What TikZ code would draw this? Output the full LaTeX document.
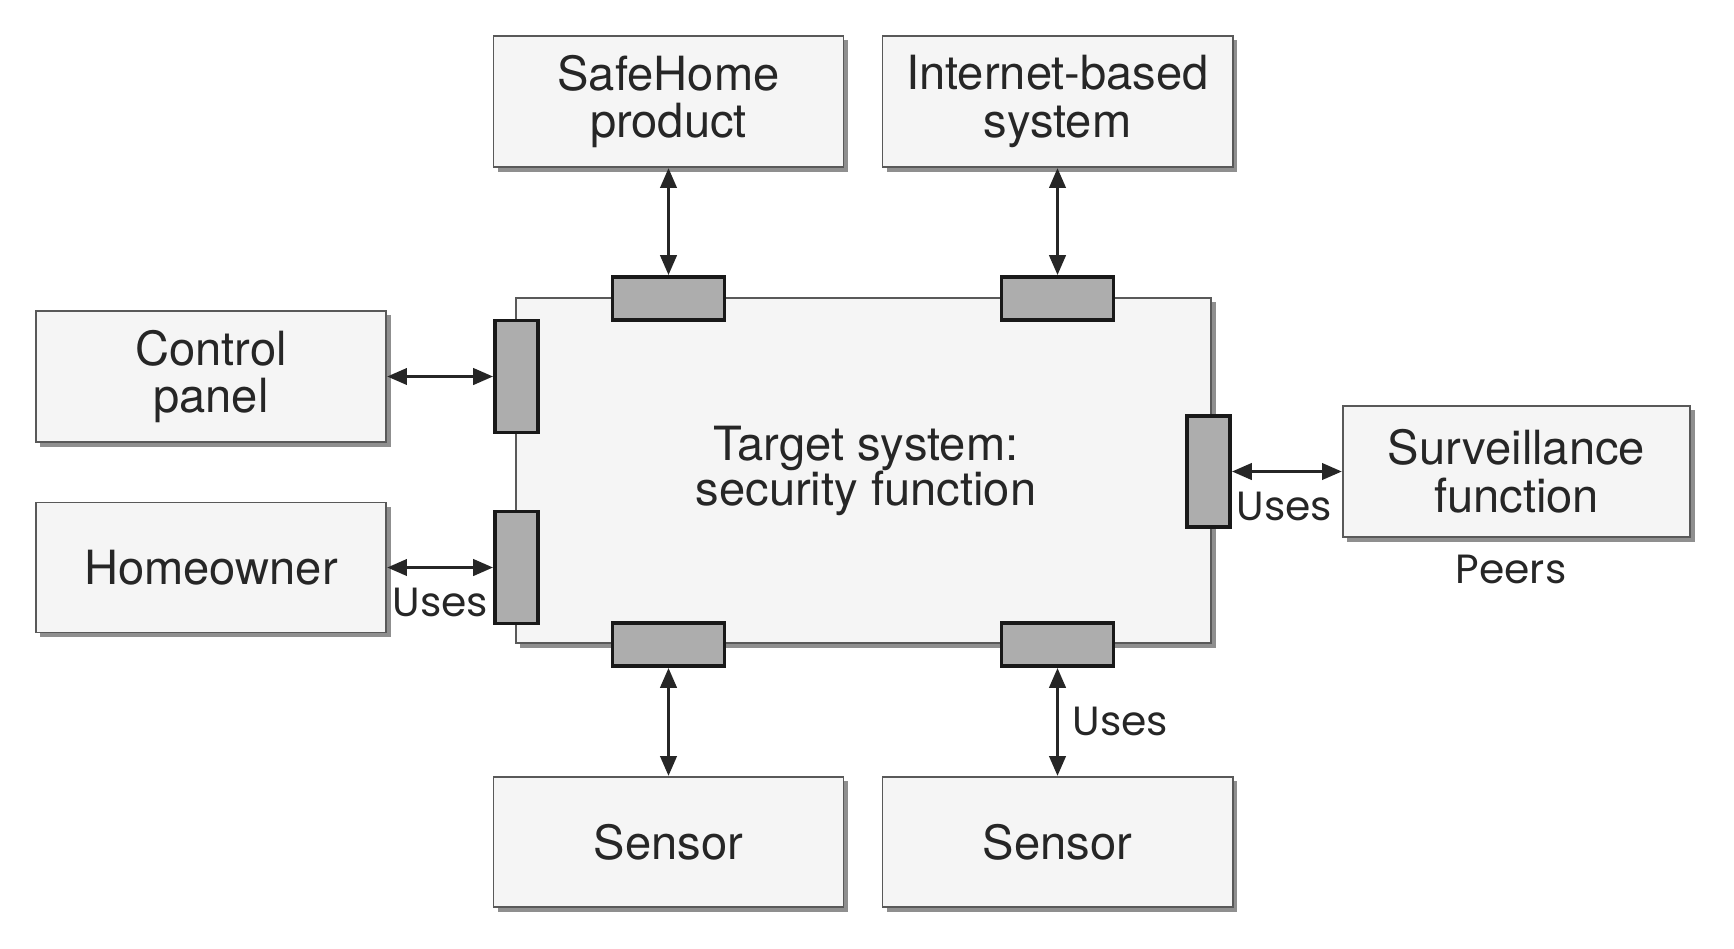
\documentclass[tikz,border=0pt]{standalone}
\usepackage{fontspec}
\setmainfont{TeX Gyre Heros}
\newfontfamily\labelfont{Poppins}
\usetikzlibrary{shapes,arrows.meta,positioning,calc,shadows}

\newcommand\titlefont{\fontsize{13.4}{13}\selectfont\lineskiplimit=-10pt\relax}

\tikzset{
  unit/.style={draw=black!65, line width=0.5pt, fill=black!4,
    minimum width=3.5cm, minimum height=1.31cm, inner sep=0pt,
    align=center, text=black!85, font=\fontsize{13.4}{13.6}\selectfont,
    drop shadow={shadow xshift=0.045cm, shadow yshift=-0.045cm, fill=black!55, opacity=0.8}},
  port/.style={draw=black!90, line width=1pt, fill=black!32, inner sep=0pt},
  hport/.style={port, minimum width=1.12cm, minimum height=0.43cm},
  vport/.style={port, minimum width=0.43cm, minimum height=1.12cm},
  link/.style={{Triangle[length=0.2cm,width=0.16cm]}-{Triangle[length=0.2cm,width=0.16cm]},
    line width=1.1pt, draw=black!85},
  lbl/.style={font=\labelfont\fontsize{11.6}{12}\selectfont, inner sep=0pt, text=black!85}
}

\begin{document}
\begin{tikzpicture}[x=0.01cm, y=-0.01cm]
            \useasboundingbox (0,0) rectangle (1734,948);

            % Target system
            \node[unit, minimum width=6.95cm, minimum height=3.45cm] (target) at (863.5,470.5) {};
            \node[text=black!85, font=\titlefont, align=center] (title) at (866,471) {Target system:\\security function};

            % Top
            \node[unit] (safehome) at (668.5,101.5) {SafeHome\\product};
            \node[unit] (internet) at (1057.5,101.5) {Internet-based\\system};
            \node[hport] (ptopa) at (668.5,298.5) {};
            \node[hport] (ptopb) at (1057.5,298.5) {};
            \draw[link] (safehome.south) -- (ptopa.north);
            \draw[link] (internet.south) -- (ptopb.north);

            % Left
            \node[unit] (control) at (211,376.5) {Control\\panel};
            \node[unit, minimum height=1.30cm] (homeowner) at (211,567.5) {Homeowner};
            \node[vport] (plefta) at (516.5,376.5) {};
            \node[vport] (pleftb) at (516.5,567.5) {};
            \draw[link] (control.east) -- (plefta.west);
            \draw[link] (homeowner.east) -- (pleftb.west);
            \node[lbl, anchor=base west] (usesa) at (392,616) {Uses};

            % Right
            \node[unit, minimum width=3.47cm] (surveil) at (1516.5,471.5) {Surveillance\\function};
            \node[vport, minimum height=1.11cm] (pright) at (1208.5,471.5) {};
            \draw[link] (pright.east) -- (surveil.west);
            \node[lbl, anchor=base west] (usesb) at (1236,520) {Uses};
            \node[lbl, anchor=base] (peers) at (1511,583) {Peers};

            % Bottom
            \node[unit, minimum height=1.30cm] (sensora) at (668.5,842) {Sensor};
            \node[unit, minimum height=1.30cm] (sensorb) at (1057.5,842) {Sensor};
            \node[hport] (pbota) at (668.5,644.5) {};
            \node[hport] (pbotb) at (1057.5,644.5) {};
            \draw[link] (pbota.south) -- (sensora.north);
            \draw[link] (pbotb.south) -- (sensorb.north);
            \node[lbl, anchor=base west] (usesc) at (1072,735) {Uses};
        \end{tikzpicture}
\end{document}
